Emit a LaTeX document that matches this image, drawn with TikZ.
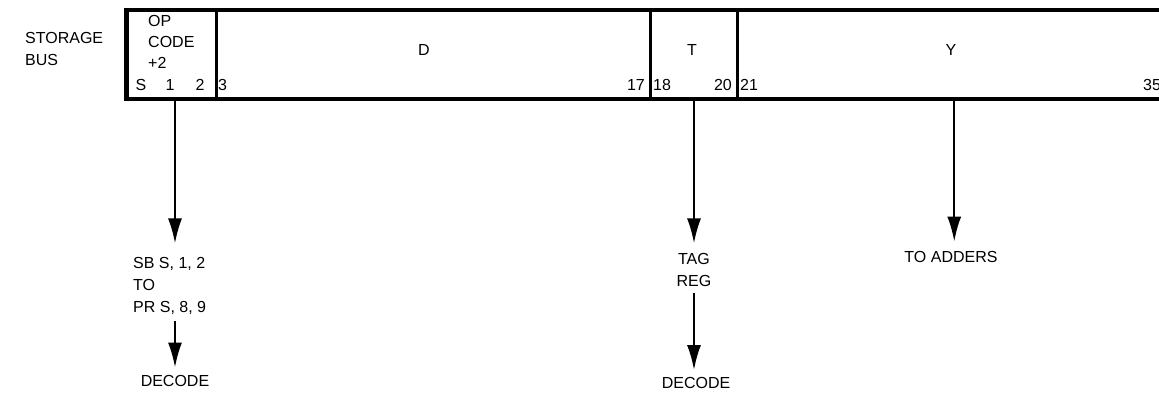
\documentclass[tikz,border=0pt]{standalone}
\usepackage{fontspec}
\setmainfont{Liberation Sans}
\usetikzlibrary{arrows.meta,positioning,calc}

\begin{document}
\begin{tikzpicture}[x=1pt, y=-1pt,
    txt/.style={font=\fontsize{16}{22}\selectfont, inner sep=0pt},
    field/.style={draw, line width=2.5pt, inner sep=0pt,
                  minimum height=87pt, anchor=north west},
    arr/.style={line width=2.3pt, -{Latex[length=25pt,width=14pt]}}
  ]
    \clip (0,0) rectangle (1159,398);

    % Storage bus word
    \node[txt, align=left, anchor=north west] (bus) at (25,32) {STORAGE\\BUS};

    \node[field, minimum width=89pt] (op) at (126,10) {};
    \node[field, minimum width=434pt] (dfld) at (215,10) {};
    \node[field, minimum width=87pt] (tfld) at (649,10) {};
    \node[field, minimum width=434pt] (yfld) at (736,10) {};
    \draw[line width=3.5pt] (op.north west) rectangle (yfld.south east);

    % Field names
    \node[txt, align=left, anchor=north west,
          font=\fontsize{16}{21}\selectfont] (opname) at (148,15) {OP\\CODE\\+2};
    \node[txt] (dname) at (424,50) {D};
    \node[txt] (tname) at (692,50) {T};
    \node[txt] (yname) at (951,50) {Y};

    % Bit numbers
    \node[txt, anchor=base] (bs) at (141,91) {S};
    \node[txt, anchor=base] (b1) at (170,91) {1};
    \node[txt, anchor=base] (b2) at (200,91) {2};
    \node[txt, anchor=base west] (b3) at (218,91) {3};
    \node[txt, anchor=base east] (b17) at (645,91) {17};
    \node[txt, anchor=base west] (b18) at (653,91) {18};
    \node[txt, anchor=base east] (b20) at (732,91) {20};
    \node[txt, anchor=base west] (b21) at (740,91) {21};
    \node[txt, anchor=base west] (b35) at (1143,91) {35};

    % Destinations
    \node[txt, align=left, anchor=north west] (sb) at (133,257.5)
      {SB S, 1, 2\\TO\\PR S, 8, 9};
    \node[txt] (dec1) at (175,381) {DECODE};
    \node[txt, align=center, anchor=north] (tag) at (694,253.5) {TAG\\REG};
    \node[txt] (dec2) at (696,383) {DECODE};
    \node[txt] (adders) at (951,257) {TO ADDERS};

    \draw[arr, shorten >=14pt] (dec1 |- op.south) -- (dec1 |- sb.north);
    \draw[arr, shorten <=6pt, shorten >=7.5pt] (dec1 |- sb.south) -- (dec1.north);
    \draw[arr, shorten >=10pt] (tfld.south -| tag) -- (tag.north);
    \draw[arr, shorten <=6pt, shorten >=7pt] (tag.south) -- (tag.south |- dec2.north);
    \draw[arr, shorten >=9.5pt] (yfld.south) -- (yfld.south |- adders.north);
\end{tikzpicture}
\end{document}
